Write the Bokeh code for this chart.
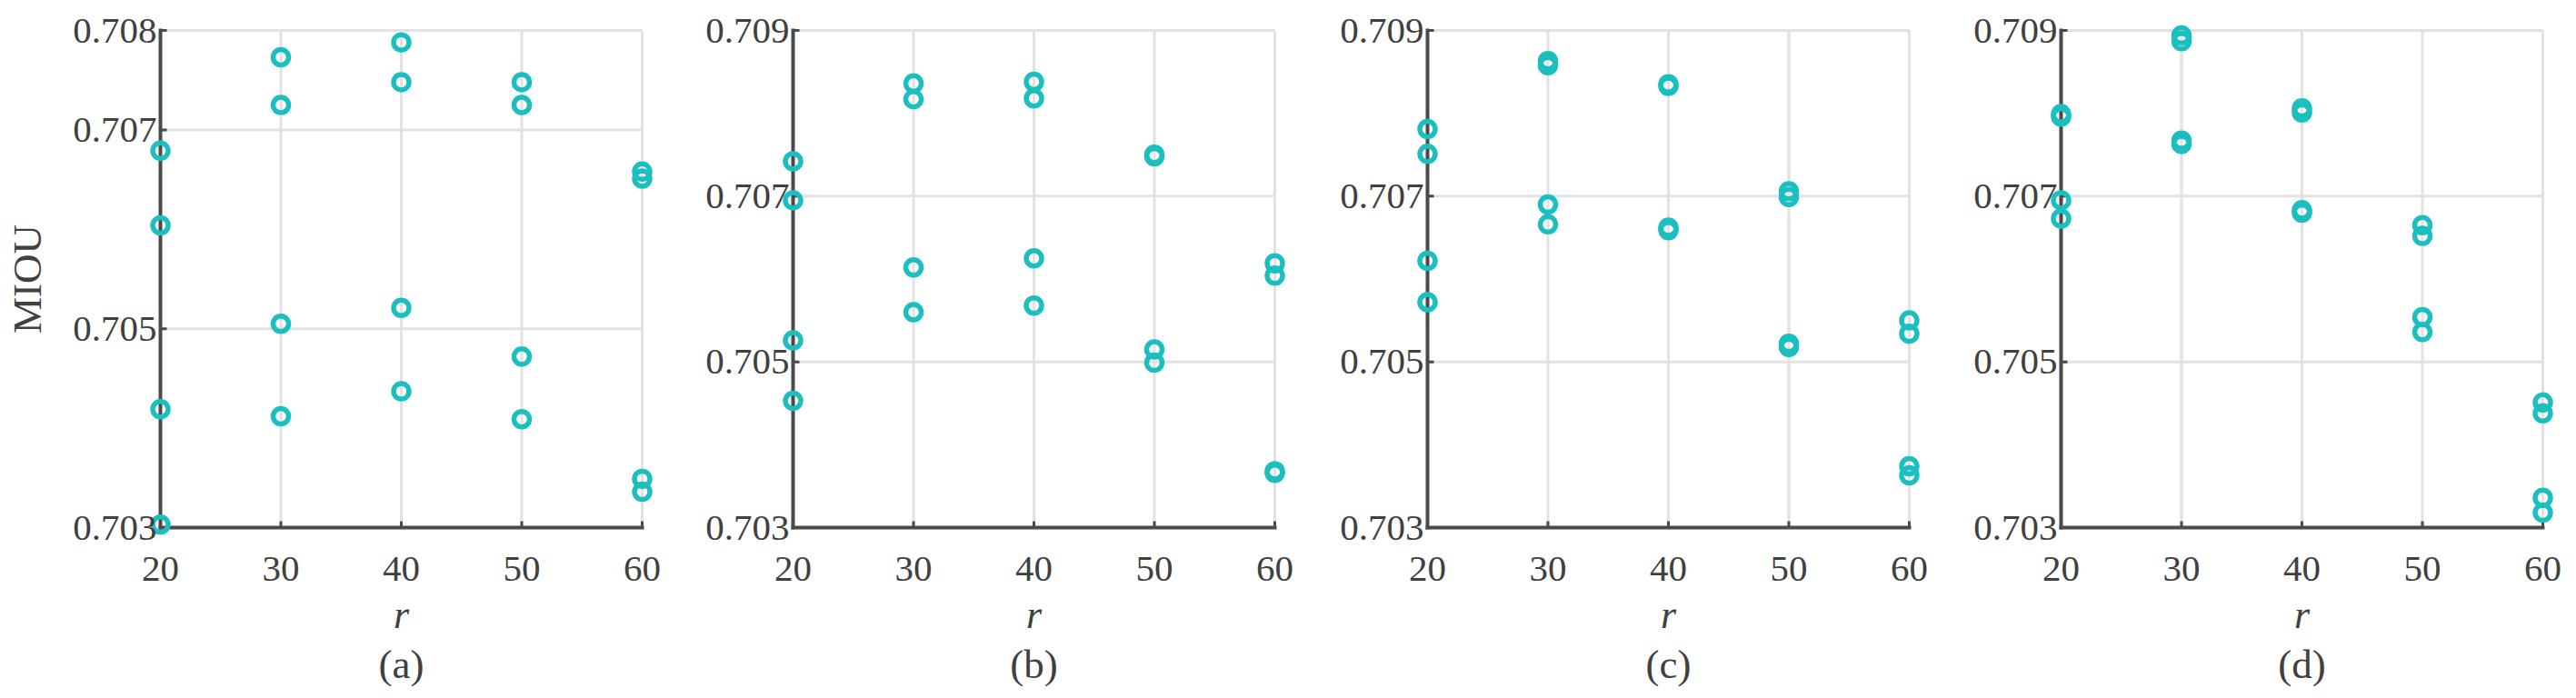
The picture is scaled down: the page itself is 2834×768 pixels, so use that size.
from bokeh.plotting import figure
from bokeh.layouts import row
from bokeh.models import FixedTicker, PrintfTickFormatter, Title
from bokeh.embed import file_html
from bokeh.resources import INLINE

# ---------------- data ----------------
r_values = [20, 30, 40, 50, 60]
panel_names = ["(a)", "(b)", "(c)", "(d)"]

# each inner list: the four MIOU results at one r value
miou_a = [
    [0.70679, 0.70604, 0.70419, 0.70303],
    [0.70773, 0.70725, 0.70505, 0.70412],
    [0.70788, 0.70748, 0.70521, 0.70437],
    [0.70748, 0.70725, 0.70472, 0.70409],
    [0.70658, 0.70651, 0.70349, 0.70336],
]
miou_b = [
    [0.70742, 0.70695, 0.70526, 0.70453],
    [0.70836, 0.70817, 0.70614, 0.70560],
    [0.70838, 0.70818, 0.70625, 0.70568],
    [0.70750, 0.70748, 0.70515, 0.70499],
    [0.70619, 0.70604, 0.70368, 0.70366],
]
miou_c = [
    [0.70781, 0.70751, 0.70622, 0.70572],
    [0.70863, 0.70858, 0.70690, 0.70666],
    [0.70835, 0.70833, 0.70662, 0.70659],
    [0.70706, 0.70699, 0.70522, 0.70518],
    [0.70550, 0.70534, 0.70374, 0.70363],
]
miou_d = [
    [0.70799, 0.70796, 0.70695, 0.70673],
    [0.70894, 0.70887, 0.70767, 0.70763],
    [0.70806, 0.70801, 0.70683, 0.70680],
    [0.70665, 0.70652, 0.70554, 0.70536],
    [0.70451, 0.70438, 0.70336, 0.70318],
]

y_ticks_a = [0.703, 0.705, 0.707, 0.708]
y_ticks_bcd = [0.703, 0.705, 0.707, 0.709]

x_label = "r"
y_label = "MIOU"

# ---------------- style / layout ----------------
DATA_W, DATA_H, PAD = 530, 547, 14
FW, FH = DATA_W + 2 * PAD, DATA_H + 2 * PAD
BORDER_LEFT = [162, 123, 125, 124]
BORDER_RIGHT = [15, 15, 15, 15]
BORDER_TOP, BORDER_BOTTOM = 19, 170

TEAL = "#1cbfbf"
AXIS = "#4a4a4a"
GRID = "#e2e2e2"
TXT = "#404040"
FONT = "Liberation Serif"


def make_panel(i, miou, yticks, show_ylabel):
    xlo, xhi = r_values[0], r_values[-1]
    ylo, yhi = yticks[0], yticks[-1]
    dx = (xhi - xlo) / DATA_W
    dy = (yhi - ylo) / DATA_H
    p = figure(
        frame_width=FW, frame_height=FH,
        x_range=(xlo - PAD * dx, xhi + PAD * dx),
        y_range=(ylo - PAD * dy, yhi + PAD * dy),
        output_backend="svg", toolbar_location=None,
        min_border_left=BORDER_LEFT[i], min_border_right=BORDER_RIGHT[i],
        min_border_top=BORDER_TOP, min_border_bottom=BORDER_BOTTOM,
    )
    p.outline_line_color = None
    p.background_fill_color = "white"
    p.border_fill_color = "white"
    p.xgrid.visible = False
    p.ygrid.visible = False

    # grid lines inside the box
    p.segment(x0=r_values, y0=ylo, x1=r_values, y1=yhi, line_color=GRID, line_width=3)
    p.segment(x0=xlo, y0=yticks, x1=xhi, y1=yticks, line_color=GRID, line_width=3)

    # axis lines (left + bottom) and inward ticks
    p.segment(x0=[xlo, xlo], y0=[ylo, ylo], x1=[xhi, xlo], y1=[ylo, yhi],
              line_color=AXIS, line_width=4, line_cap="square")
    p.segment(x0=r_values, y0=ylo, x1=r_values, y1=ylo + 7 * dy,
              line_color=AXIS, line_width=3)
    p.segment(x0=xlo, y0=yticks, x1=xlo + 7 * dx, y1=yticks,
              line_color=AXIS, line_width=3)

    xs = [r for r, vals in zip(r_values, miou) for _ in vals]
    ys = [v for vals in miou for v in vals]
    p.scatter(xs, ys, marker="circle", size=17, fill_color=None,
              line_color=TEAL, line_width=5.5)

    for ax in (p.xaxis[0], p.yaxis[0]):
        ax.axis_line_color = None
        ax.major_tick_line_color = None
        ax.minor_tick_line_color = None
        ax.major_tick_out = 0
        ax.major_tick_in = 0
        ax.major_label_text_font = FONT
        ax.major_label_text_font_size = "41px"
        ax.major_label_text_color = TXT
        ax.axis_label_text_font = FONT
        ax.axis_label_text_color = TXT
    p.xaxis.ticker = FixedTicker(ticks=r_values)
    p.yaxis.ticker = FixedTicker(ticks=yticks)
    p.yaxis.formatter = PrintfTickFormatter(format="%.3f")
    p.xaxis.major_label_standoff = 18
    p.yaxis.major_label_standoff = -10

    p.xaxis.axis_label = x_label
    p.xaxis.axis_label_text_font_style = "italic"
    p.xaxis.axis_label_text_font_size = "44px"
    p.xaxis.axis_label_standoff = 10

    if show_ylabel:
        p.yaxis.axis_label = y_label
        p.yaxis.axis_label_text_font_style = "normal"
        p.yaxis.axis_label_text_font_size = "45px"
        p.yaxis.axis_label_standoff = 22

    p.add_layout(Title(text=panel_names[i], align="center", text_font=FONT,
                       text_font_size="45px", text_font_style="normal",
                       text_color=TXT, standoff=0), "below")
    return p


panels = [
    make_panel(0, miou_a, y_ticks_a, True),
    make_panel(1, miou_b, y_ticks_bcd, False),
    make_panel(2, miou_c, y_ticks_bcd, False),
    make_panel(3, miou_d, y_ticks_bcd, False),
]

layout = row(*panels)
open("out.html", "w").write(file_html(layout, INLINE))
